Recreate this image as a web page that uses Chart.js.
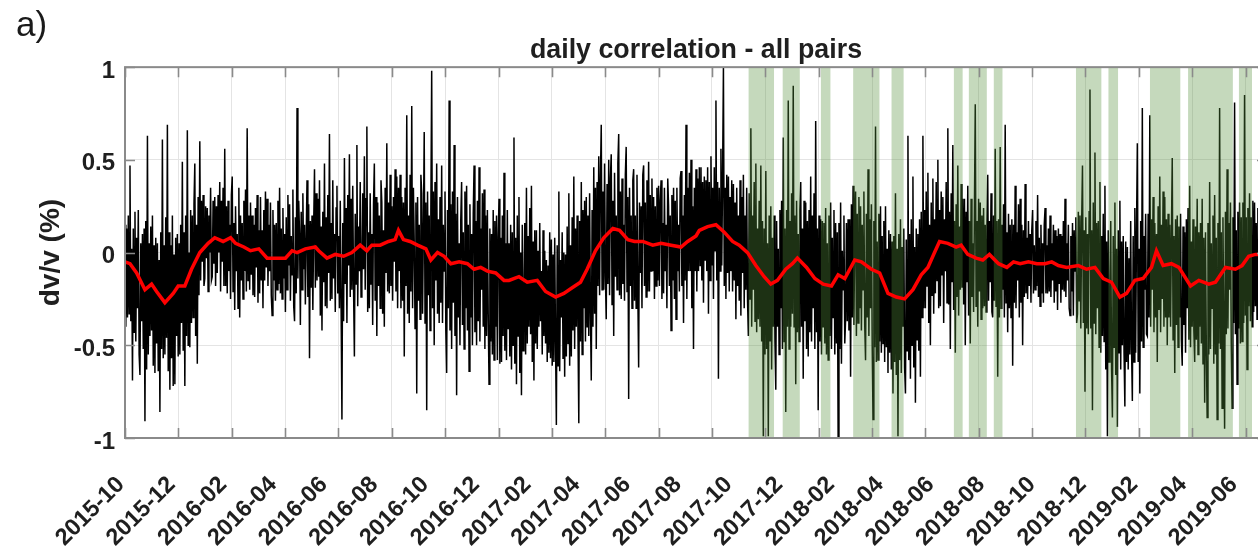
<!DOCTYPE html>
<html>
<head>
<meta charset="utf-8">
<script src="https://cdn.jsdelivr.net/npm/chart.js@4/dist/chart.umd.min.js"></script>
<style>
  html, body { margin: 0; padding: 0; background: #fff; overflow: hidden; }
  #wrap { position: relative; width: 1272px; height: 553px; }
  #panel { position: absolute; left: 16px; top: 6px; font: 35px "Liberation Sans", Arial, sans-serif; line-height: 35px; color: #1a1a1a; }
  canvas { position: absolute; left: 0; top: 0; }
</style>
</head>
<body>
<div id="wrap">
  <canvas id="c" width="1272" height="553"></canvas>
  <div id="panel">a)</div>
</div>
<script>
// Time axis: day offsets counted from 2015-10-01
const START = Date.UTC(2015, 9, 1);
const XMAX = 1374;          // last day shown on the axis
const GRID_STEP = 64.2;     // spacing of the vertical grid lines, in days

// Tick labels along the time axis
const tickLabels = ['2015-10','2015-12','2016-02','2016-04','2016-06','2016-08','2016-10','2016-12',
  '2017-02','2017-04','2017-06','2017-08','2017-10','2017-12','2018-02','2018-04','2018-06',
  '2018-08','2018-10','2018-12','2019-02','2019-04','2019-06'];
const yTicks = [-1, -0.5, 0, 0.5, 1];

// Daily dv/v (%), one value per day from 2015-10-01
const dailyDvv = [
  0.15,-0.40,0.13,-0.35,0.20,-0.33,0.47,-0.37,0.02,-0.69,0.13,-0.43,0.22,-0.48,0.08,
  -0.30,0.23,-0.55,-0.66,0.05,-0.37,0.10,-0.52,0.13,-0.91,0.17,-0.63,0.63,-0.55,0.05,
  -0.45,0.14,-0.42,0.20,-0.61,0.04,-0.65,0.08,-0.49,0.05,-0.64,-0.04,-0.86,0.11,-0.52,
  0.61,-0.57,0.04,-0.55,0.19,-0.46,0.69,-0.64,0.11,-0.74,0.04,-0.57,0.20,-0.72,-0.01,
  -0.71,0.08,-0.45,0.10,-0.56,0.05,-0.55,0.15,-0.38,0.49,-0.53,0.11,-0.72,0.20,-0.45,
  0.66,-0.50,0.00,-0.51,0.23,-0.38,0.20,-0.35,0.26,0.48,-0.45,0.15,-0.60,0.30,-0.23,
  0.60,-0.15,0.28,-0.05,0.31,-0.18,-0.14,0.25,-0.03,0.24,-0.21,0.20,0.00,0.35,-0.15,
  -0.13,0.28,-0.06,0.30,-0.18,0.25,-0.11,0.31,0.00,0.38,-0.21,0.28,-0.05,0.35,-0.18,
  0.56,-0.18,0.25,-0.22,0.28,-0.10,0.15,-0.25,0.31,0.41,-0.21,0.16,-0.31,0.25,-0.10,
  0.10,-0.30,0.35,-0.35,0.20,-0.15,0.16,-0.25,0.28,-0.10,0.34,-0.21,0.67,-0.15,0.20,
  -0.20,0.27,-0.12,0.20,-0.23,0.15,-0.24,0.24,-0.08,0.31,-0.27,0.12,-0.22,0.30,-0.15,
  0.12,-0.30,0.23,-0.15,0.33,-0.08,0.29,-0.18,0.15,-0.10,0.27,-0.23,-0.34,0.23,-0.15,
  0.15,-0.26,0.16,-0.20,0.28,-0.17,0.35,-0.22,0.13,-0.25,0.24,-0.14,0.10,-0.32,0.19,
  -0.20,0.31,-0.07,0.26,-0.26,0.09,-0.12,0.34,-0.29,-0.37,0.19,-0.22,0.78,-0.14,0.28,
  0.10,-0.39,0.22,-0.20,0.32,-0.09,0.15,-0.28,0.07,0.39,-0.24,0.26,-0.57,0.17,-0.19,
  0.20,-0.31,0.14,0.45,-0.19,0.32,-0.15,0.29,-0.13,0.39,-0.34,0.14,-0.42,0.22,-0.16,
  0.48,-0.29,0.19,-0.30,0.31,-0.11,0.64,-0.26,0.16,-0.25,0.39,-0.14,0.10,-0.32,0.24,
  0.36,-0.22,0.09,-0.30,0.28,-0.29,-0.90,0.16,-0.37,0.51,-0.17,0.24,-0.38,0.31,-0.07,
  0.53,-0.24,0.29,-0.20,0.36,-0.20,-0.56,0.21,-0.17,0.58,-0.29,0.14,-0.10,0.38,-0.24,
  -0.18,0.32,-0.09,0.52,-0.20,0.29,0.68,-0.32,0.11,-0.30,0.32,-0.17,0.10,-0.39,0.26,
  0.48,-0.26,0.30,-0.45,0.27,-0.18,0.20,-0.30,0.39,0.27,-0.33,0.12,-0.40,0.35,-0.11,
  0.59,-0.21,0.27,-0.22,0.42,-0.18,0.25,-0.26,0.30,-0.05,0.45,-0.21,0.41,-0.30,0.35,
  -0.10,0.42,-0.30,0.30,-0.26,0.27,-0.56,0.35,-0.18,0.74,-0.33,0.20,-0.38,0.42,-0.21,
  0.79,-0.30,0.35,0.05,-0.41,0.27,-0.76,0.30,-0.26,0.15,-0.36,0.42,0.32,-0.33,0.12,
  0.65,-0.38,0.27,-0.85,0.33,-0.23,0.20,-0.42,0.23,0.98,-0.30,0.33,-0.50,0.38,-0.15,
  0.48,-0.33,0.18,-0.38,0.30,-0.27,0.47,-0.38,0.15,-0.10,0.33,-0.42,-0.65,0.23,-0.30,
  0.82,-0.42,0.26,-0.52,0.33,-0.27,0.58,-0.45,0.21,-0.77,0.30,-0.35,0.05,-0.50,0.18,
  0.38,-0.39,0.11,-0.52,0.33,-0.30,0.36,-0.42,0.15,-0.64,0.26,-0.35,0.10,-0.50,0.21,
  0.47,-0.43,0.17,-0.50,0.28,-0.37,0.46,-0.48,0.13,-0.20,0.32,-0.40,0.34,-0.52,0.20,
  -0.45,0.23,-0.33,-0.71,0.13,-0.48,0.10,-0.55,0.23,-0.58,0.17,-0.40,0.20,-0.58,0.08,
  0.29,-0.60,0.08,-0.59,0.20,-0.45,0.43,-0.53,0.05,-0.58,0.23,-0.41,0.05,-0.56,0.15,
  -0.63,0.11,-0.50,0.62,-0.60,0.08,-0.71,0.20,-0.45,0.30,-0.65,0.00,-0.77,0.15,-0.53,
  -0.30,0.16,-0.55,0.35,-0.49,0.09,-0.40,0.24,-0.44,0.36,-0.59,0.06,-0.69,0.12,-0.49,
  0.12,-0.52,0.01,-0.40,0.16,-0.37,-0.10,-0.55,0.12,-0.45,0.01,-0.49,-0.04,-0.59,-0.07,
  -0.54,0.11,-0.57,0.07,-0.61,-0.01,-0.59,0.08,-0.49,-0.93,0.04,-0.61,0.33,-0.64,-0.04,
  -0.35,0.11,-0.57,0.00,-0.67,-0.01,-0.56,0.14,-0.49,0.32,-0.61,0.04,-0.56,0.19,-0.42,
  0.41,-0.52,0.13,-0.40,0.20,-0.43,-0.92,0.17,-0.48,0.38,-0.55,0.23,-0.30,0.28,-0.48,
  0.30,-0.40,0.20,-0.45,0.32,-0.33,-0.69,0.23,-0.40,0.46,-0.33,0.35,-0.52,0.38,-0.18,
  0.52,-0.23,0.40,0.69,-0.20,0.33,-0.20,0.48,-0.13,-0.36,0.37,-0.17,0.50,-0.23,0.40,
  0.53,-0.28,0.28,-0.45,0.43,-0.13,0.20,-0.20,0.48,0.64,-0.23,0.33,-0.25,0.40,-0.17,
  0.15,-0.26,0.42,0.57,-0.21,0.30,-0.79,0.35,-0.18,0.20,-0.30,0.39,0.45,-0.26,0.20,
  -0.30,0.42,-0.21,-0.62,0.27,-0.11,0.25,-0.30,0.42,0.47,-0.18,0.27,-0.24,0.39,-0.21,
  0.49,-0.21,0.31,-0.10,0.40,-0.10,0.30,-0.25,0.25,-0.18,0.35,-0.15,0.36,-0.18,0.28,
  0.39,-0.25,0.16,-0.22,0.35,-0.10,0.15,-0.30,0.40,0.25,-0.18,0.20,-0.42,0.31,-0.15,
  0.35,-0.25,0.28,-0.36,0.35,-0.10,0.15,-0.21,0.40,0.44,-0.18,0.20,-0.38,0.31,-0.15,
  0.69,-0.25,0.35,-0.10,0.43,-0.10,0.50,-0.30,0.25,-0.52,0.35,-0.10,0.45,-0.21,0.40,
  -0.10,0.46,-0.07,0.46,-0.15,0.38,-0.27,0.41,-0.04,0.39,-0.10,0.46,-0.33,0.38,-0.15,
  0.52,-0.07,0.35,-0.25,0.46,0.01,0.82,-0.15,0.38,-0.68,0.35,-0.10,0.56,-0.07,0.41,
  1.00,-0.18,0.35,-0.25,0.42,-0.11,0.41,-0.21,0.30,-0.10,0.39,-0.21,0.37,-0.15,0.27,
  -0.36,0.35,-0.18,0.20,-0.26,0.39,-0.34,0.30,-0.11,0.42,-0.30,0.20,-0.20,0.35,-0.26,
  -0.45,0.32,-0.25,0.67,-0.40,0.20,-0.20,0.38,-0.37,0.48,-0.43,0.13,-0.36,0.28,-0.40,
  0.47,-0.48,0.17,-0.99,0.13,-0.55,0.44,-0.52,0.05,-0.99,0.20,-0.48,0.25,-0.63,0.08,
  -0.40,0.20,-0.48,-0.74,0.17,-0.40,0.02,-0.55,0.23,-0.30,0.28,-0.52,0.62,-0.48,0.13,
  -0.86,0.23,-0.40,0.82,-0.52,0.17,-0.40,0.32,-0.33,0.90,-0.40,0.20,-0.71,0.28,-0.43,
  0.10,-0.48,0.23,0.38,-0.40,0.13,-0.68,0.28,-0.37,0.27,-0.52,0.17,-0.56,0.23,-0.43,
  0.41,-0.48,0.20,-0.30,0.32,-0.52,0.71,-0.43,0.13,-0.85,0.20,-0.48,0.18,-0.55,0.17,
  -0.40,0.16,-0.49,0.24,-0.55,0.05,-0.58,0.20,-0.45,0.27,-0.52,0.08,-0.35,0.23,-0.55,
  0.16,-0.49,0.11,-0.99,0.16,-0.52,0.27,-0.60,0.01,-0.20,0.20,-0.49,-0.36,0.16,-0.37,
  0.18,-0.42,0.18,-0.67,0.26,-0.35,0.36,-0.39,0.11,0.33,-0.45,0.21,-0.38,0.30,-0.30,
  0.25,-0.42,0.15,-0.20,0.33,-0.39,-0.58,0.21,-0.35,0.45,-0.45,0.18,-0.30,0.26,-0.50,
  -0.90,0.17,-0.51,0.68,-0.59,0.06,-0.58,0.21,-0.48,0.25,-0.54,0.09,-0.49,0.17,-0.59,
  0.25,-0.51,0.02,-0.65,0.12,-0.54,0.10,-0.63,0.06,-0.76,0.09,-0.59,0.32,-0.66,0.02,
  -0.99,0.10,-0.58,0.18,-0.65,0.03,-0.40,0.13,-0.62,-0.76,0.07,-0.53,0.63,-0.58,0.10,
  -0.68,0.18,-0.50,0.41,-0.62,0.03,-0.81,0.13,-0.47,0.10,-0.53,0.18,-0.67,0.22,-0.35,
  0.63,-0.30,0.23,-0.30,0.33,-0.18,0.43,-0.38,0.15,-0.50,0.27,-0.23,0.40,-0.33,0.18,
  -0.22,0.38,-0.15,0.50,-0.30,0.23,-0.29,0.33,-0.12,0.30,-0.38,0.18,-0.10,0.38,-0.27,
  0.67,-0.28,0.22,-0.52,0.32,-0.16,0.58,-0.31,0.17,-0.54,0.26,-0.24,0.47,-0.34,0.14,
  -0.20,0.37,-0.19,0.29,-0.28,0.29,-0.50,0.22,-0.16,0.36,-0.34,0.17,-0.49,0.29,-0.24,
  0.05,-0.32,0.24,0.80,-0.29,0.17,-0.40,0.29,-0.21,0.27,-0.36,0.20,-0.30,0.24,-0.29,
  0.15,-0.32,0.14,0.42,-0.26,0.17,-0.16,0.32,-0.32,-0.35,0.20,-0.26,0.56,-0.29,0.17,
  -0.67,0.18,-0.35,0.57,-0.30,0.15,-0.20,0.26,-0.35,0.69,-0.27,0.11,-0.43,0.21,-0.30,
  0.15,-0.35,0.18,-0.61,0.15,-0.27,0.36,-0.30,0.11,-0.15,0.26,-0.35,0.29,-0.27,0.15,
  -0.50,0.12,-0.24,0.37,-0.22,0.08,-0.25,0.17,-0.18,0.10,-0.27,0.12,0.23,-0.22,0.04,
  -0.20,0.17,-0.18,0.31,-0.24,0.08,-0.29,0.15,-0.22,0.05,-0.27,0.15,0.24,-0.22,0.04,
  -0.22,0.13,-0.21,0.20,-0.24,0.05,-0.15,0.15,-0.27,0.12,-0.21,0.09,-0.31,0.13,-0.17,
  0.10,-0.27,0.09,-0.20,0.17,-0.21,0.29,-0.24,0.05,-0.15,0.15,-0.30,-0.34,0.09,-0.21,
  0.16,-0.34,0.12,-0.10,0.19,-0.38,-0.33,0.22,-0.26,0.20,-0.41,0.16,0.47,-0.38,0.12,
  -0.75,0.19,-0.41,0.10,-0.44,0.22,0.88,-0.41,0.12,-0.85,0.27,-0.38,0.54,-0.44,0.16,
  -0.30,0.17,-0.51,0.38,-0.54,0.09,-0.45,0.21,-0.48,0.36,-0.63,0.06,-0.99,0.12,-0.59,
  -0.30,0.17,-0.63,-0.89,0.09,-0.51,0.27,-0.66,0.02,-0.94,0.12,-0.54,0.28,-0.63,0.06,
  -0.50,0.09,-0.54,-0.83,0.06,-0.59,0.03,-0.63,-0.03,-0.55,0.17,-0.51,-0.80,0.09,-0.59,
  0.24,-0.54,0.12,0.59,-0.59,0.02,-0.76,0.17,-0.48,0.78,-0.51,0.09,-0.20,0.21,-0.44,
  -0.45,0.21,-0.35,0.74,-0.40,0.18,-0.20,0.30,-0.43,0.16,-0.35,0.10,-0.59,0.25,-0.31,
  0.41,-0.43,0.15,-0.25,0.33,-0.40,0.30,-0.35,0.18,-0.50,0.21,-0.35,0.15,-0.40,0.10,
  0.51,-0.47,0.09,-0.65,0.18,-0.39,0.20,-0.51,0.14,-0.35,0.21,-0.47,-0.61,0.14,-0.39,
  0.11,-0.54,0.18,-0.30,0.24,-0.47,0.36,-0.51,0.06,-0.40,0.18,-0.42,-0.59,0.14,-0.47,
  0.29,-0.55,0.11,-0.40,0.16,-0.49,0.29,-0.60,0.08,-0.81,0.11,-0.52,-0.89,0.16,-0.55,
  0.38,-0.52,0.05,-0.30,0.20,-0.60,0.31,-0.55,0.08,-0.90,0.16,-0.49,0.78,-0.52,0.11,
  -0.84,0.19,-0.41,-0.95,0.22,-0.44,0.45,-0.41,0.16,-0.20,0.27,-0.49,-0.84,0.19,-0.38,
  0.81,-0.44,0.12,-0.71,0.22,-0.41,0.27,-0.49,0.19,-0.48,0.27,-0.38,0.85,-0.34,0.19,
  -0.63,0.24,-0.29,0.32,-0.37,0.19,-0.40,0.28,-0.32,0.27,-0.29,0.16,-0.36,0.24,-0.29,
  0.11,-0.37,0.24,-0.10,0.29,-0.26,0.20,-0.21
];

// Smoothed dv/v (red curve)
const trendDays = [0,6,14,24,32,38,48,58,64,72,80,90,100,108,118,127,133,143,151,161,171,181,193,201,207,217,229,233,
  243,253,263,273,283,291,297,307,317,325,329,335,343,352,362,368,376,384,392,402,412,420,428,436,446,456,462,474,484,
  496,506,518,528,538,548,556,566,576,587,595,605,613,623,635,645,657,669,677,687,691,701,711,721,731,739,749,759,769,
  777,785,795,803,809,820,830,840,850,858,866,878,886,898,908,918,928,938,948,958,966,974,980,990,1000,1006,1014,1024,
  1032,1040,1051,1061,1069,1077,1087,1097,1107,1115,1123,1133,1147,1157,1167,1177,1187,1197,1205,1215,1225,1235,1241,
  1249,1259,1268,1282,1292,1304,1312,1324,1336,1344,1352,1360,1372];
const trendDvv = [-0.05,-0.06,-0.11,-0.20,-0.17,-0.21,-0.27,-0.22,-0.18,-0.18,-0.09,0.00,0.05,0.08,0.06,0.08,0.05,0.03,
  0.01,0.02,-0.03,-0.03,-0.03,0.01,0.00,0.02,0.03,0.01,-0.03,-0.01,-0.02,0.00,0.04,0.01,0.04,0.04,0.06,0.07,0.12,0.07,
  0.06,0.04,0.02,-0.04,0.00,-0.02,-0.06,-0.05,-0.06,-0.09,-0.08,-0.10,-0.11,-0.15,-0.15,-0.13,-0.16,-0.15,-0.21,-0.24,
  -0.22,-0.19,-0.16,-0.09,0.01,0.08,0.13,0.12,0.07,0.06,0.06,0.04,0.05,0.04,0.03,0.06,0.09,0.12,0.14,0.15,0.11,0.06,
  0.04,0.00,-0.07,-0.13,-0.17,-0.15,-0.09,-0.06,-0.03,-0.08,-0.14,-0.17,-0.18,-0.12,-0.14,-0.04,-0.05,-0.09,-0.11,
  -0.22,-0.24,-0.25,-0.20,-0.12,-0.08,0.00,0.06,0.05,0.03,0.04,-0.01,-0.03,-0.04,-0.01,-0.06,-0.08,-0.05,-0.06,-0.05,
  -0.06,-0.06,-0.05,-0.07,-0.08,-0.07,-0.09,-0.08,-0.14,-0.16,-0.24,-0.22,-0.15,-0.14,-0.08,0.01,-0.07,-0.06,-0.08,
  -0.18,-0.15,-0.17,-0.16,-0.08,-0.09,-0.07,-0.02,-0.01,-0.01];

// Shaded periods (start / end day)
const bandStart = [750, 791, 837, 876, 922, 997, 1015, 1045, 1144, 1183, 1233, 1279, 1340];
const bandEnd   = [781, 812, 849, 908, 937, 1008, 1037, 1056, 1175, 1195, 1270, 1333, 1356];

// ---- build library data ----
const DAY_MS = 86400000;
const tickDays = tickLabels.map(s => {
  const [y, m] = s.split('-').map(Number);
  return Math.round((Date.UTC(y, m - 1, 1) - START) / DAY_MS);
});
const gridDays = [];
for (let d = 0; d <= XMAX; d += GRID_STEP) gridDays.push(d);

const dailyPts = dailyDvv.map((v, i) => ({ x: i, y: v }));
const trendPts = trendDays.map((d, i) => ({ x: d, y: trendDvv[i] }));
const bandPts = [];
bandStart.forEach((s, i) => {
  bandPts.push({ x: s, y: 1 }, { x: bandEnd[i], y: 1 }, { x: bandEnd[i], y: null });
});

const FONT = '"Liberation Sans", Arial, Helvetica, sans-serif';
const TXT = '#1f1f1f';

// axes box with inward tick marks
const axesBox = {
  id: 'axesBox',
  afterDatasetsDraw(chart) {
    const { ctx, chartArea: a, scales } = chart;
    ctx.save();
    ctx.strokeStyle = '#8a8a8a';
    ctx.lineWidth = 1.6;
    ctx.beginPath();
    scales.xg.ticks.forEach(t => {
      const px = Math.round(scales.xg.getPixelForValue(t.value)) + 0.5;
      ctx.moveTo(px, a.bottom); ctx.lineTo(px, a.bottom - 10);
      ctx.moveTo(px, a.top); ctx.lineTo(px, a.top + 10);
    });
    scales.y.ticks.forEach(t => {
      const py = Math.round(scales.y.getPixelForValue(t.value)) + 0.5;
      ctx.moveTo(a.left, py); ctx.lineTo(a.left + 10, py);
      ctx.moveTo(a.right, py); ctx.lineTo(a.right - 10, py);
    });
    ctx.stroke();
    ctx.lineWidth = 2;
    ctx.strokeRect(a.left, a.top, a.right - a.left, a.bottom - a.top);
    ctx.restore();
  }
};

const noSidePad = s => { s.paddingLeft = 0; s.paddingRight = 0; };

new Chart(document.getElementById('c'), {
  data: {
    datasets: [
      { type: 'line', label: 'daily', data: dailyPts, borderColor: '#000', borderWidth: 1.5,
        pointRadius: 0, tension: 0, order: 3, xAxisID: 'x', yAxisID: 'y' },
      { type: 'line', label: 'periods', data: bandPts, borderColor: 'transparent', borderWidth: 0,
        backgroundColor: 'rgba(84,143,60,0.34)', fill: { value: -1 }, spanGaps: false,
        pointRadius: 0, order: 2, xAxisID: 'x', yAxisID: 'y' },
      { type: 'line', label: 'smoothed', data: trendPts, borderColor: '#ff0000', borderWidth: 3.5,
        pointRadius: 0, tension: 0, order: 1, xAxisID: 'x', yAxisID: 'y' }
    ]
  },
  options: {
    responsive: false,
    animation: false,
    events: [],
    layout: { padding: { left: 0, right: 5, top: 0, bottom: 0 } },
    plugins: {
      legend: { display: false },
      tooltip: { enabled: false },
      title: {
        display: true, text: 'daily correlation - all pairs', fullSize: false,
        color: TXT, font: { family: FONT, size: 26.8, weight: 'bold' },
        padding: { top: 35, bottom: 0 }
      }
    },
    scales: {
      x: {
        type: 'linear', position: 'bottom', min: 0, max: XMAX,
        grid: { display: false, drawTicks: false },
        border: { display: false },
        ticks: {
          autoSkip: false, minRotation: 45, maxRotation: 45, padding: 33, labelOffset: -4,
          color: TXT, font: { family: FONT, size: 23.5, weight: 'bold' },
          callback: (v, i) => tickLabels[i]
        },
        afterBuildTicks: s => { s.ticks = tickDays.map(v => ({ value: v })); },
        afterFit: s => { s.height = 115; noSidePad(s); }
      },
      xg: {
        type: 'linear', position: 'bottom', min: 0, max: XMAX,
        ticks: { display: false },
        grid: { color: '#e4e4e4', lineWidth: 1, drawTicks: false },
        border: { display: false },
        afterBuildTicks: s => { s.ticks = gridDays.map(v => ({ value: v })); },
        afterFit: s => { s.height = 0; noSidePad(s); }
      },
      y: {
        min: -1, max: 1,
        grid: { color: '#e4e4e4', lineWidth: 1, drawTicks: false },
        border: { display: false },
        ticks: {
          padding: 10, labelOffset: 4, color: TXT,
          font: { family: FONT, size: 24, weight: 'bold' },
          callback: v => String(v)
        },
        afterBuildTicks: s => { s.ticks = yTicks.map(v => ({ value: v })); },
        title: {
          display: true, text: 'dv/v (%)', color: TXT,
          font: { family: FONT, size: 28, weight: 'bold' },
          padding: { top: 34, bottom: 0 }
        },
        afterFit: s => { s.width = 125; }
      }
    }
  },
  plugins: [axesBox]
});
</script>
</body>
</html>
